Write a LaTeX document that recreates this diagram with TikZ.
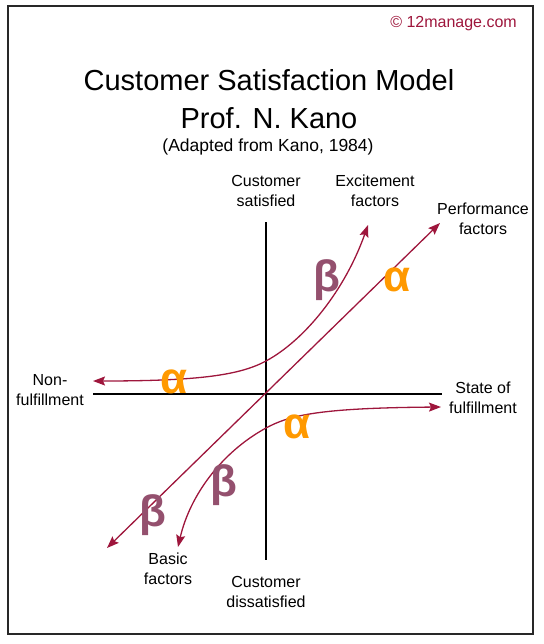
\documentclass[tikz,border=0pt]{standalone}
\usepackage{fontspec}
\setmainfont{Liberation Sans}
\usetikzlibrary{arrows.meta,positioning}
\definecolor{knRed}{RGB}{158,22,60}
\definecolor{knOrange}{RGB}{255,153,0}
\definecolor{knMauve}{RGB}{148,80,110}
\definecolor{knFrame}{RGB}{40,40,40}
\newcommand{\greekmark}[4]{%
  \node[greek,text=#2] (#1) at (#3) {#4};
}

\begin{document}
\begin{tikzpicture}[x=1pt,y=-1pt,
  >={Stealth[length=12pt,width=9pt,inset=2pt]},
  axislabel/.style={font=\fontsize{16}{20}\selectfont,align=center,inner sep=0pt},
  axisline/.style={line width=1.5pt,black},
  factor/.style={knRed,line width=1.3pt,<->},
  greek/.style={font=\fontsize{44}{44}\selectfont\bfseries,anchor=base,inner sep=0pt}]
  \useasboundingbox (0,0) rectangle (543,644);
  \draw[line width=2pt,knFrame] (8,6) rectangle (533,634);
  \node[font=\fontsize{16}{18}\selectfont,text=knRed,anchor=base east,inner sep=0pt] (copy) at (517,28) {© 12manage.com};
  \node[font=\fontsize{29}{38}\selectfont,align=center,inner sep=0pt] (title) at (269,99.5) {Customer Satisfaction Model\\Prof. N. Kano};
  \node[font=\fontsize{17.5}{20}\selectfont,anchor=base,inner sep=0pt] (source) at (268,152) {(Adapted from Kano, 1984)};
  % axes
  \coordinate (axW) at (93,394);
  \coordinate (axE) at (442,394);
  \coordinate (axN) at (266,222);
  \coordinate (axS) at (266,560);
  \draw[axisline] (axW) -- (axE);
  \draw[axisline] (axN) -- (axS);
  \node[axislabel] (sat) at (266,191) {Customer\\satisfied};
  \node[axislabel] (dissat) at (266,592) {Customer\\dissatisfied};
  \node[axislabel] (nonful) at (50,390) {Non-\\fulfillment};
  \node[axislabel] (state) at (483,398) {State of\\fulfillment};
  \node[axislabel] (excite) at (375,191) {Excitement\\factors};
  \node[axislabel] (perform) at (483,219) {Performance\\factors};
  \node[axislabel] (basic) at (168,568.5) {Basic\\factors};
  % curves
  \coordinate (nonTip) at (93,381);
  \coordinate (exciteTip) at (368,225);
  \coordinate (performTip) at (440,223);
  \coordinate (basicTipA) at (107,548);
  \coordinate (stateTip) at (441,407);
  \coordinate (basicTipB) at (178,547);
  \draw[factor] (nonTip) .. controls (200,381) and (240,375) .. (266,361)
    .. controls (305,340) and (345,290) .. (exciteTip);
  \draw[factor] (basicTipA) -- (performTip);
  \draw[factor] (stateTip) .. controls (320,408) and (290,415) .. (266,428)
    .. controls (222,452) and (190,495) .. (basicTipB);
  \greekmark{alphaW}{knOrange}{174,393}{α}
  \greekmark{alphaN}{knOrange}{397,291}{α}
  \greekmark{alphaS}{knOrange}{297,438}{α}
  \greekmark{betaN}{knMauve}{327,291}{β}
  \greekmark{betaS}{knMauve}{224,496}{β}
  \greekmark{betaW}{knMauve}{153,526}{β}
\end{tikzpicture}
\end{document}
